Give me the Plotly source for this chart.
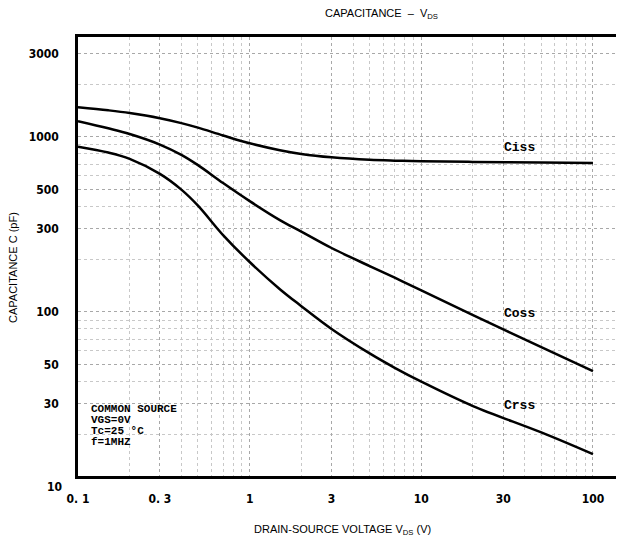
import math
import plotly.graph_objects as go

# Drain-source voltage (V)
vds = [0.1, 0.15, 0.2, 0.3, 0.4, 0.5, 0.7, 1, 1.5, 2, 3, 5, 7, 10, 20, 50, 100]

# Capacitances (pF)
ciss = [1480, 1420, 1370, 1280, 1200, 1130, 1020, 920, 840, 800, 765, 740, 732, 727, 720, 714, 710]
coss = [1230, 1120, 1040, 905, 790, 690, 545, 430, 335, 288, 232, 183, 157, 133, 96, 63, 46]
crss = [880, 815, 750, 615, 500, 405, 275, 193, 135, 108, 80, 58, 48, 40, 29, 20.5, 15.4]

curve_names = ["Ciss", "Coss", "Crss"]
label_x = [37.5, 37.5, 37.5]
label_y = [865, 98.5, 29.4]

x_tickvals = [0.1, 0.3, 1, 3, 10, 30, 100]
x_ticktext = ["0. 1", "0. 3", "1", "3", "10", "30", "100"]
y_tickvals = [30, 50, 100, 300, 500, 1000, 3000]
y_ticktext = ["30", "50", "100", "300", "500", "1000", "3000"]

cond_lines = ["COMMON SOURCE", "VGS=0V", "Tc=25 \u00b0C", "f=1MHZ"]

# page body has an 8px margin: figure drawn 8px right/down of the window origin
OFF = 8
W, H = 624 - OFF, 545 - OFF
L, T = 78 - OFF, 37 - OFF
R, B = W - (617 - OFF), H - (476 - OFF)
PW, PH = W - L - R, H - T - B


def px(sx):
    return (sx - OFF - L) / PW


def py(sy):
    return (H - B - (sy - OFF)) / PH


TICKFONT = dict(family="Liberation Sans Narrow, DejaVu Sans Condensed, Liberation Sans, Arial",
                size=12, color="black", weight="bold")
MONO = dict(family="Liberation Mono, DejaVu Sans Mono, monospace", size=13, color="black", weight="bold")
SANS = dict(family="Liberation Sans, Arial, sans-serif", size=11, color="black")

fig = go.Figure()
for name, vals in zip(curve_names, [ciss, coss, crss]):
    fig.add_trace(go.Scatter(x=vds, y=vals, mode="lines", name=name,
                             line=dict(color="black", width=2.5, shape="spline", smoothing=1.0),
                             showlegend=False))

for name, lx, ly in zip(curve_names, label_x, label_y):
    fig.add_annotation(x=math.log10(lx), y=math.log10(ly),
                       xref="x", yref="y", text=name, showarrow=False,
                       font=MONO, xanchor="center", yanchor="middle")

# condition block
for i, t in enumerate(cond_lines):
    fig.add_annotation(x=px(89), y=py(409 + i * 11), xref="paper", yref="paper",
                       text=t, showarrow=False, xanchor="left", yanchor="middle",
                       font=dict(family="Liberation Mono, DejaVu Sans Mono, monospace",
                                 size=11, color="black", weight="bold"))

# "10" label sits just below the frame in the original
fig.add_annotation(x=px(64), y=py(487), xref="paper", yref="paper", text="10",
                   showarrow=False, xanchor="right", yanchor="middle", font=TICKFONT)

# titles
fig.add_annotation(x=px(381), y=py(14), xref="paper", yref="paper",
                   text="CAPACITANCE  \u2013  V<sub>DS</sub>", showarrow=False,
                   xanchor="center", yanchor="middle", font=SANS)
fig.add_annotation(x=px(342), y=py(530), xref="paper", yref="paper",
                   text="DRAIN-SOURCE VOLTAGE V<sub>DS</sub> (V)", showarrow=False,
                   xanchor="center", yanchor="middle", font=SANS)
fig.add_annotation(x=px(13), y=py(268), xref="paper", yref="paper",
                   text="CAPACITANCE C (pF)", showarrow=False, textangle=-90,
                   xanchor="center", yanchor="middle", font=SANS)

fig.update_layout(
    width=W, height=H,
    margin=dict(l=L, r=R, t=T, b=B, autoexpand=False),
    paper_bgcolor="white", plot_bgcolor="white",
    xaxis=dict(type="log", range=[-1.0, 2.14], tickvals=x_tickvals, ticktext=x_ticktext,
               tickfont=TICKFONT, ticks="", ticklabelstandoff=10, automargin=False,
               showline=True, linecolor="black", linewidth=2.5, mirror=True,
               showgrid=True, gridcolor="#a8a8a8", griddash="dot", gridwidth=1,
               minor=dict(showgrid=True, gridcolor="#c8c8c8", griddash="dot", dtick="D1"),
               zeroline=False),
    yaxis=dict(type="log", range=[1.063, 3.571], tickvals=y_tickvals, ticktext=y_ticktext,
               tickfont=TICKFONT, ticks="", ticklabelstandoff=14, automargin=False,
               showline=True, linecolor="black", linewidth=2.5, mirror=True,
               showgrid=True, gridcolor="#a8a8a8", griddash="dot", gridwidth=1,
               minor=dict(showgrid=True, gridcolor="#c8c8c8", griddash="dot", dtick="D1"),
               zeroline=False),
)

fig.write_html("out.html")
